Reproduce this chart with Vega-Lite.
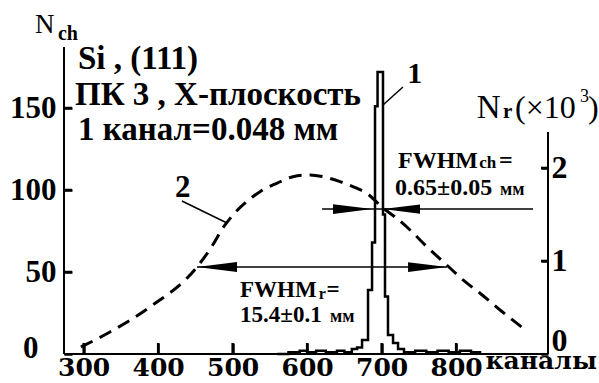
{
"$schema": "https://vega.github.io/schema/vega-lite/v6.json",
"width": 484, "height": 307,
"autosize": "none",
"padding": {"left": 64, "top": 47, "right": 51, "bottom": 29},
"background": "white",
"data": {"values": [{}]},
"config": {
  "view": {"stroke": null},
  "axis": {"domainColor": "black", "tickColor": "black", "labelColor": "black", "domainWidth": 2, "tickWidth": 2.5, "ticks": true, "tickOpacity": 1, "grid": false, "labelFont": "Liberation Serif", "labelFontWeight": "bold", "labelOverlap": false, "labelFlush": false},
  "text": {"color": "black", "font": "Liberation Serif", "fontWeight": "bold", "align": "left", "baseline": "alphabetic"}
},
"datasets": {
  "hist": [
    {"ch": 560, "n": 0}, {"ch": 575, "n": 1}, {"ch": 590, "n": 2}, {"ch": 600, "n": 1}, {"ch": 612, "n": 2}, {"ch": 625, "n": 1},
    {"ch": 640, "n": 2}, {"ch": 650, "n": 1}, {"ch": 660, "n": 3}, {"ch": 667, "n": 4}, {"ch": 673.7, "n": 8.5}, {"ch": 681.7, "n": 39},
    {"ch": 687.1, "n": 68}, {"ch": 691.1, "n": 151}, {"ch": 694.5, "n": 172}, {"ch": 701.8, "n": 85}, {"ch": 704.5, "n": 35},
    {"ch": 708.5, "n": 11.6}, {"ch": 715.3, "n": 6.7}, {"ch": 722, "n": 3}, {"ch": 730, "n": 1}, {"ch": 745, "n": 2}, {"ch": 760, "n": 1},
    {"ch": 775, "n": 2}, {"ch": 790, "n": 1}, {"ch": 805, "n": 2}, {"ch": 820, "n": 1}, {"ch": 832, "n": 0}
  ],
  "curve": [
    {"ch": 296.4, "nr": 0.075}, {"ch": 335.3, "nr": 0.237}, {"ch": 389.0, "nr": 0.505}, {"ch": 452.1, "nr": 0.935},
    {"ch": 471.9, "nr": 1.154}, {"ch": 486.9, "nr": 1.355}, {"ch": 500.5, "nr": 1.495}, {"ch": 518.8, "nr": 1.638},
    {"ch": 536.7, "nr": 1.745}, {"ch": 559.2, "nr": 1.835}, {"ch": 581.0, "nr": 1.906}, {"ch": 603.9, "nr": 1.925},
    {"ch": 621.3, "nr": 1.906}, {"ch": 644.1, "nr": 1.853}, {"ch": 666.5, "nr": 1.782}, {"ch": 679.9, "nr": 1.728},
    {"ch": 701.8, "nr": 1.570}, {"ch": 720.2, "nr": 1.459}, {"ch": 738.1, "nr": 1.333}, {"ch": 760.5, "nr": 1.154},
    {"ch": 787.4, "nr": 0.957}, {"ch": 809.2, "nr": 0.796}, {"ch": 832.1, "nr": 0.653}, {"ch": 858.9, "nr": 0.473},
    {"ch": 890.2, "nr": 0.276}
  ],
  "xticks": [{"v": 300}, {"v": 400}, {"v": 500}, {"v": 600}, {"v": 700}, {"v": 800}],
  "lticks": [{"v": 50}, {"v": 100}, {"v": 150}],
  "rticks": [{"v": 1}, {"v": 2}]
},
"layer": [
  {"layer": [
    {"data": {"name": "hist"},
     "mark": {"type": "line", "interpolate": "step-after", "color": "black", "strokeWidth": 2.5},
     "encoding": {
       "x": {"field": "ch", "type": "quantitative", "scale": {"domain": [273.6, 923.3], "nice": false, "zero": false},
             "axis": {"values": [300, 400, 500, 600, 700, 800], "domain": false, "ticks": true, "offset": -11, "tickSize": 11, "labelPadding": 1.5, "labelFont": "DejaVu Serif", "labelFontSize": 25, "labelFontWeight": "bold",
                      "title": "каналы", "titleFont": "DejaVu Serif", "titleFontSize": 25, "titleFontWeight": "bold", "titleColor": "black", "titleX": 421, "titleY": 25.5, "titleAlign": "left", "titleBaseline": "alphabetic", "titleAnchor": "start"}},
       "y": {"field": "n", "type": "quantitative", "scale": {"domain": [0, 187.2], "nice": false, "zero": false},
             "axis": {"orient": "left", "values": [0, 50, 100, 150], "domain": false, "ticks": true, "offset": -8, "tickSize": 8, "labelFontSize": 31, "labelBaseline": "middle",
                      "labelPadding": {"condition": {"test": "datum.value === 0", "value": 26}, "value": 8},
                      "labelOffset": {"condition": {"test": "datum.value === 0", "value": -6}, "value": 0},
                      "title": null}}
     }},
    {"data": {"name": "xticks"},
     "mark": {"type": "rule", "color": "black", "strokeWidth": 2.5},
     "encoding": {"x": {"field": "v", "type": "quantitative"}, "y": {"datum": 0, "type": "quantitative"}, "y2": {"datum": 6.7}}},
    {"data": {"name": "lticks"},
     "mark": {"type": "rule", "color": "black", "strokeWidth": 2.5},
     "encoding": {"y": {"field": "v", "type": "quantitative"}, "x": {"datum": 273.6, "type": "quantitative"}, "x2": {"datum": 284.3}}},
    {"mark": {"type": "rule", "color": "black", "strokeWidth": 2},
     "encoding": {"x": {"datum": 273.6, "type": "quantitative"}, "x2": {"datum": 923.3}, "y": {"datum": 0, "type": "quantitative"}}},
    {"mark": {"type": "rule", "color": "black", "strokeWidth": 2},
     "encoding": {"x": {"datum": 273.6, "type": "quantitative"}, "y": {"datum": 0, "type": "quantitative"}, "y2": {"datum": 187.2}}},
    {"mark": {"type": "rule", "color": "black", "strokeWidth": 1.5},
     "encoding": {"x": {"datum": 620.0, "type": "quantitative"}, "x2": {"datum": 903.2}, "y": {"datum": 88.4, "type": "quantitative"}}},
    {"mark": {"type": "rule", "color": "black", "strokeWidth": 1.5},
     "encoding": {"x": {"datum": 452.1, "type": "quantitative"}, "x2": {"datum": 787.8}, "y": {"datum": 53.0, "type": "quantitative"}}},
    {"mark": {"type": "rule", "color": "black", "strokeWidth": 1.5},
     "encoding": {"x": {"datum": 701.8, "type": "quantitative"}, "x2": {"datum": 728.6}, "y": {"datum": 151.8, "type": "quantitative"}, "y2": {"datum": 162.8}}},
    {"mark": {"type": "rule", "color": "black", "strokeWidth": 1.5},
     "encoding": {"x": {"datum": 431.9, "type": "quantitative"}, "x2": {"datum": 492.4}, "y": {"datum": 93.3, "type": "quantitative"}, "y2": {"datum": 79.9}}},
    {"mark": {"type": "point", "shape": "M-1,0L1,-0.25L1,0.25Z", "size": 1600, "filled": true, "color": "black", "opacity": 1},
     "encoding": {"x": {"datum": 479.0, "type": "quantitative"}, "y": {"datum": 53.0, "type": "quantitative"}}},
    {"mark": {"type": "point", "shape": "M1,0L-1,-0.25L-1,0.25Z", "size": 1520, "filled": true, "color": "black", "opacity": 1},
     "encoding": {"x": {"datum": 761.6, "type": "quantitative"}, "y": {"datum": 53.0, "type": "quantitative"}}},
    {"mark": {"type": "point", "shape": "M1,0L-1,-0.25L-1,0.25Z", "size": 1520, "filled": true, "color": "black", "opacity": 1},
     "encoding": {"x": {"datum": 660.9, "type": "quantitative"}, "y": {"datum": 88.4, "type": "quantitative"}}},
    {"mark": {"type": "point", "shape": "M-1,0L1,-0.25L1,0.25Z", "size": 1370, "filled": true, "color": "black", "opacity": 1},
     "encoding": {"x": {"datum": 726.6, "type": "quantitative"}, "y": {"datum": 88.4, "type": "quantitative"}}},
    {"mark": {"type": "text", "text": "N", "fontSize": 27, "fontWeight": "normal"},
     "encoding": {"x": {"datum": 234.7, "type": "quantitative"}, "y": {"datum": 195.7, "type": "quantitative"}}},
    {"mark": {"type": "text", "text": "ch", "fontSize": 20},
     "encoding": {"x": {"datum": 265.5, "type": "quantitative"}, "y": {"datum": 191.5, "type": "quantitative"}}},
    {"mark": {"type": "text", "text": "Si , (111)", "fontSize": 33},
     "encoding": {"x": {"datum": 292.4, "type": "quantitative"}, "y": {"datum": 173.8, "type": "quantitative"}}},
    {"mark": {"type": "text", "text": "ПК 3 , Х-плоскость", "fontSize": 33},
     "encoding": {"x": {"datum": 288.4, "type": "quantitative"}, "y": {"datum": 151.8, "type": "quantitative"}}},
    {"mark": {"type": "text", "text": "1 канал=0.048 мм", "fontSize": 33},
     "encoding": {"x": {"datum": 292.4, "type": "quantitative"}, "y": {"datum": 130.5, "type": "quantitative"}}},
    {"mark": {"type": "text", "text": "1", "fontSize": 30},
     "encoding": {"x": {"datum": 734.4, "type": "quantitative"}, "y": {"datum": 165.2, "type": "quantitative"}}},
    {"mark": {"type": "text", "text": "2", "fontSize": 31},
     "encoding": {"x": {"datum": 422.6, "type": "quantitative"}, "y": {"datum": 95.7, "type": "quantitative"}}},
    {"mark": {"type": "text", "text": "FWHM", "fontSize": 24},
     "encoding": {"x": {"datum": 722.0, "type": "quantitative"}, "y": {"datum": 113.4, "type": "quantitative"}}},
    {"mark": {"type": "text", "text": "ch", "fontSize": 17},
     "encoding": {"x": {"datum": 831.0, "type": "quantitative"}, "y": {"datum": 113.4, "type": "quantitative"}}},
    {"mark": {"type": "text", "text": "=", "fontSize": 24},
     "encoding": {"x": {"datum": 857.5, "type": "quantitative"}, "y": {"datum": 113.4, "type": "quantitative"}}},
    {"mark": {"type": "text", "text": "0.65±0.05", "fontSize": 24},
     "encoding": {"x": {"datum": 718.0, "type": "quantitative"}, "y": {"datum": 97.0, "type": "quantitative"}}},
    {"mark": {"type": "text", "text": "мм", "fontSize": 18},
     "encoding": {"x": {"datum": 859.0, "type": "quantitative"}, "y": {"datum": 97.0, "type": "quantitative"}}},
    {"mark": {"type": "text", "text": "FWHM", "fontSize": 23},
     "encoding": {"x": {"datum": 509.9, "type": "quantitative"}, "y": {"datum": 34.8, "type": "quantitative"}}},
    {"mark": {"type": "text", "text": "r", "fontSize": 16},
     "encoding": {"x": {"datum": 615.5, "type": "quantitative"}, "y": {"datum": 33.5, "type": "quantitative"}}},
    {"mark": {"type": "text", "text": "=", "fontSize": 23},
     "encoding": {"x": {"datum": 626.0, "type": "quantitative"}, "y": {"datum": 34.8, "type": "quantitative"}}},
    {"mark": {"type": "text", "text": "15.4±0.1", "fontSize": 23},
     "encoding": {"x": {"datum": 509.9, "type": "quantitative"}, "y": {"datum": 19.5, "type": "quantitative"}}},
    {"mark": {"type": "text", "text": "мм", "fontSize": 18},
     "encoding": {"x": {"datum": 630.7, "type": "quantitative"}, "y": {"datum": 19.5, "type": "quantitative"}}},
    {"mark": {"type": "text", "text": "N", "fontSize": 33, "fontWeight": "normal"},
     "encoding": {"x": {"datum": 827.7, "type": "quantitative"}, "y": {"datum": 143.9, "type": "quantitative"}}},
    {"mark": {"type": "text", "text": "r", "fontSize": 21},
     "encoding": {"x": {"datum": 863.0, "type": "quantitative"}, "y": {"datum": 143.9, "type": "quantitative"}}},
    {"mark": {"type": "text", "text": "(×10", "fontSize": 32, "fontWeight": "normal"},
     "encoding": {"x": {"datum": 879.0, "type": "quantitative"}, "y": {"datum": 143.9, "type": "quantitative"}}},
    {"mark": {"type": "text", "text": "3", "fontSize": 18, "fontWeight": "normal"},
     "encoding": {"x": {"datum": 966.2, "type": "quantitative"}, "y": {"datum": 153.7, "type": "quantitative"}}},
    {"mark": {"type": "text", "text": ")", "fontSize": 32, "fontWeight": "normal"},
     "encoding": {"x": {"datum": 977.0, "type": "quantitative"}, "y": {"datum": 143.9, "type": "quantitative"}}}
  ]},
  {"layer": [
    {"data": {"name": "curve"},
     "mark": {"type": "line", "interpolate": "monotone", "color": "black", "strokeWidth": 3, "strokeDash": [13, 8]},
     "encoding": {
       "x": {"field": "ch", "type": "quantitative", "scale": {"domain": [273.6, 923.3], "nice": false, "zero": false}},
       "y": {"field": "nr", "type": "quantitative", "scale": {"domain": [0, 3.30], "nice": false, "zero": false},
             "axis": {"orient": "right", "values": [0, 1, 2], "format": "d", "domain": false, "ticks": true, "offset": -7, "tickSize": 7, "labelPadding": 3, "labelFontSize": 32, "labelBaseline": "middle",
                      "labelOffset": {"condition": {"test": "datum.value === 0", "value": -14}, "value": 0}, "title": null}}
     }},
    {"data": {"name": "rticks"},
     "mark": {"type": "rule", "color": "black", "strokeWidth": 2.5},
     "encoding": {"y": {"field": "v", "type": "quantitative"}, "x": {"datum": 913.9, "type": "quantitative"}, "x2": {"datum": 923.3}}},
    {"mark": {"type": "rule", "color": "black", "strokeWidth": 2},
     "encoding": {"x": {"datum": 923.3, "type": "quantitative"},
                  "y": {"datum": 0, "type": "quantitative"},
                  "y2": {"datum": 2.387}}}
  ]}
],
"resolve": {"scale": {"y": "independent"}, "axis": {"y": "independent"}}
}
